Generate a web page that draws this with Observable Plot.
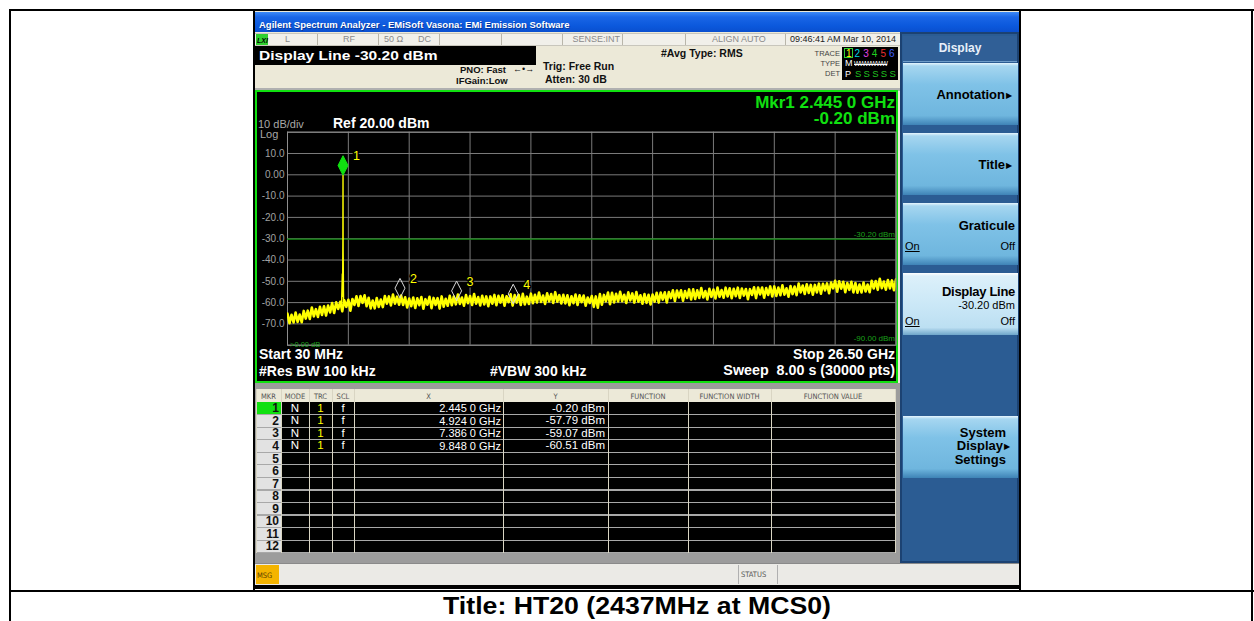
<!DOCTYPE html>
<html><head><meta charset="utf-8">
<script src="https://cdn.jsdelivr.net/npm/d3@7"></script>
<script src="https://cdn.jsdelivr.net/npm/@observablehq/plot@0.6"></script>
<style>
html,body{margin:0;padding:0;background:#fff;}
#root{position:relative;width:1254px;height:621px;overflow:hidden;font-family:"Liberation Sans",Arial,sans-serif;}
.a{position:absolute;white-space:nowrap;box-sizing:border-box;}
</style></head><body><div id="root"></div>
<script>
// ---------------- data ----------------
const sweepStartGHz = 0.03;
const sweepStopGHz = 26.5;
const refLevelDbm = 20;
const dbPerDiv = 10;
const displayLineDbm = -30.20;
const thresholdLabel = "-90.00 dBm";
const yTickValues = [10, 0, -10, -20, -30, -40, -50, -60, -70];
const yTickLabels = ["10.0", "0.00", "-10.0", "-20.0", "-30.0", "-40.0", "-50.0", "-60.0", "-70.0"];
const markerIds = [1, 2, 3, 4];
const markerFreqGHz = [2.445, 4.924, 7.386, 9.848];
const markerLevelDbm = [-0.20, -57.79, -59.07, -60.51];
const carrierFreqGHz = [2.38, 2.415, 2.425, 2.44, 2.445, 2.45, 2.47];
const carrierLevelDbm = [-61.5, -46.5, -57, -30, -0.2, -35, -61];
// noise floor of trace 1, read across the sweep (equally spaced sweep points)
const traceLevelDbm = [
-65.2,-69.7,-65.7,-69.3,-64.7,-69.1,-65.6,-69.2,-63.9,-67.5,-63.8,-67.7,-62.3,-66.5,-63.1,-66.7,-62.0,-65.8,-61.7,-66.1,
-61.4,-64.6,-60.2,-64.9,-59.9,-63.0,-59.6,-64.1,-58.9,-62.0,-58.7,-63.8,-58.3,-61.1,-57.0,-61.6,-56.9,-60.1,-56.6,-61.7,
-57.7,-62.7,-59.0,-62.7,-57.9,-62.0,-58.6,-62.1,-56.9,-60.5,-57.1,-61.3,-56.2,-60.5,-57.2,-61.0,-56.7,-61.1,-57.5,-62.3,
-58.1,-61.7,-57.6,-62.5,-58.0,-61.2,-57.4,-62.9,-58.4,-61.0,-57.3,-62.6,-57.8,-61.1,-57.9,-62.8,-57.1,-61.9,-58.2,-61.5,
-56.8,-61.2,-57.2,-60.8,-56.2,-60.6,-57.6,-61.5,-56.5,-60.3,-56.9,-61.1,-56.0,-60.5,-57.4,-61.3,-56.8,-60.9,-57.1,-61.7,
-57.1,-60.5,-56.4,-61.2,-56.8,-60.0,-56.6,-61.5,-57.0,-59.8,-56.1,-61.4,-56.5,-60.0,-56.4,-61.1,-55.9,-60.9,-57.2,-60.6,
-55.8,-60.3,-56.3,-59.9,-55.3,-59.7,-56.7,-60.6,-55.6,-59.4,-56.0,-60.2,-55.1,-59.6,-56.5,-60.4,-56.3,-60.4,-56.6,-61.2,
-57.0,-60.3,-56.2,-61.1,-56.6,-59.8,-56.7,-61.5,-57.6,-60.2,-56.9,-62.0,-57.1,-62.4,-56.0,-61.0,-56.4,-59.4,-55.3,-60.8,
-55.4,-59.9,-55.9,-59.5,-54.9,-59.3,-56.3,-60.2,-55.2,-59.0,-55.7,-60.0,-55.0,-59.6,-56.6,-60.5,-56.0,-60.1,-56.3,-60.9,
-56.2,-59.6,-55.4,-60.0,-55.3,-58.6,-55.2,-59.9,-55.0,-57.9,-54.2,-59.2,-54.3,-57.6,-54.2,-59.1,-54.6,-57.8,-53.8,-58.5,
-53.8,-58.3,-54.2,-57.8,-53.2,-57.6,-54.6,-58.5,-53.5,-57.3,-53.9,-58.1,-52.9,-57.3,-54.1,-57.7,-53.0,-57.1,-53.3,-57.9,
-53.5,-57.0,-53.0,-57.8,-53.4,-56.7,-53.6,-58.4,-53.7,-56.4,-52.8,-57.9,-52.9,-56.2,-52.9,-57.7,-53.2,-56.4,-52.4,-57.1,
-52.4,-56.9,-52.9,-56.5,-51.9,-56.3,-53.3,-57.2,-52.2,-56.0,-52.5,-56.5,-51.1,-55.2,-52.0,-55.9,-51.4,-55.5,-51.7,-56.3,
-51.7,-55.2,-51.1,-55.8,-51.2,-54.3,-51.0,-55.6,-50.6,-53.3,-49.8,-54.9,-50.0,-53.5,-50.2,-55.1,-50.8,-54.0,-50.2,-55.2,
-50.8,-55.4,-51.5,-55.2,-50.6,-54.8,-51.5,-55.1,-49.8,-53.4,-49.9,-54.0,-48.8,-53.2,-50.1,-53.9,-49.4,-53.4,-49.6,-54.2,-49.1
];

// ---------------- helpers ----------------
const root = document.getElementById("root");
function el(css, text) {
  const e = document.createElement("div");
  e.className = "a"; e.style.cssText = css;
  if (text != null) e.textContent = text;
  root.appendChild(e); return e;
}
function rect(x, y, w, h, bg, extra = "") {
  return el(`left:${x}px;top:${y}px;width:${w}px;height:${h}px;background:${bg};${extra}`);
}
function txt(x, base, s, size, o = {}) {
  const color = o.color || "#000", weight = o.weight || "normal", align = o.align || "left";
  const fam = o.family ? `font-family:${o.family};` : "";
  const top = base - 0.85 * size;
  let pos = align === "left" ? `left:${x}px;` : align === "right" ? `right:${1254 - x}px;` : `left:${x}px;transform:translateX(-50%);`;
  return el(`${pos}top:${top}px;font-size:${size}px;line-height:${size}px;color:${color};font-weight:${weight};${fam}${o.extra || ""}`, s);
}
const fmtGHz = f => { const s = f.toFixed(4); return s.slice(0, -1) + " " + s.slice(-1); };

// ---------------- screenshot chrome ----------------
rect(255, 11, 765, 578, "#ece9d8");
rect(255, 12, 764, 20, "linear-gradient(#3d8af7 0%, #1a66e6 25%, #0b58dc 70%, #0a4fcf 100%)");
txt(259, 28, "Agilent Spectrum Analyzer - EMiSoft Vasona: EMi Emission Software", 9.5, {color: "#fff", weight: "bold", extra: "text-shadow:1px 1px 0 #0a3a9a;"});
rect(255, 33, 645, 13, "#f1f0ea", "border-top:1px solid #c8c6bc;border-bottom:1px solid #c8c6bc;");
[317, 378, 439, 501, 562, 622, 685, 785].forEach(x => rect(x, 34, 1, 11, "#b9b6aa"));
rect(256, 34, 12, 11, "#2fd02f");
txt(257, 43, "LXI", 7, {weight: "bold", extra: "font-style:italic;"});
const gray = "#8a8a8a";
txt(285, 43, "L", 9, {color: gray});
txt(343, 43, "RF", 9, {color: gray});
txt(384, 43, "50 Ω", 9, {color: gray});
txt(418, 43, "DC", 9, {color: gray});
txt(620, 43, "SENSE:INT", 9, {color: gray, align: "right"});
txt(712, 43, "ALIGN AUTO", 9, {color: gray});
txt(790, 43, "09:46:41 AM Mar 10, 2014", 9, {color: "#222"});
rect(255, 46, 281, 18.5, "#000");
txt(259, 60.5, `Display Line ${displayLineDbm.toFixed(2)} dBm`, 13.5, {color: "#fff", weight: "bold", extra: "transform:scaleX(1.15);transform-origin:0 0;"});
txt(460, 73.5, "PNO: Fast", 9.5, {weight: "bold", color: "#111"});
txt(513, 73, "←•→", 9, {color: "#111"});
txt(456, 84.5, "IFGain:Low", 9.5, {weight: "bold", color: "#111"});
txt(543, 69.5, "Trig: Free Run", 10.5, {weight: "bold", color: "#111"});
txt(545, 82.5, "Atten: 30 dB", 10.5, {weight: "bold", color: "#111"});
txt(661, 57, "#Avg Type: RMS", 10.5, {weight: "bold", color: "#111"});
txt(840, 56, "TRACE", 7.5, {color: "#444", align: "right"});
txt(840, 66, "TYPE", 7.5, {color: "#444", align: "right"});
txt(840, 76, "DET", 7.5, {color: "#444", align: "right"});
rect(842, 47, 56, 33, "#000");
rect(844, 48, 9, 10, "transparent", "border:1px solid #2fd02f;");
["#ffff00", "#00d8e8", "#e040e0", "#20d020", "#e83030", "#4060ff"].forEach((c, i) => txt(846 + i * 8.6, 57, String(i + 1), 10, {color: c}));
txt(845, 67, "M", 9, {color: "#fff"});
txt(854, 66.5, "WWWWWW", 6.5, {color: "#fff", extra: "letter-spacing:-0.6px;text-decoration:line-through;"});
txt(845, 77.5, "P", 9, {color: "#fff"});
["S", "S", "S", "S", "S"].forEach((s, i) => txt(855 + i * 8.6, 77.5, s, 9.5, {color: "#20c020"}));
rect(255, 88, 645, 3, "#b0b0b0");
rect(255, 90, 642.5, 293, "#000", "border:2.5px solid #10e010;");

// ---------------- the Plot chart ----------------
const trace = traceLevelDbm.map((v, i) => ({f: sweepStartGHz + i * (sweepStopGHz - sweepStartGHz) / (traceLevelDbm.length - 1), v}));
const carrier = carrierFreqGHz.map((f, i) => ({f, v: carrierLevelDbm[i]}));
const markers = markerIds.map((id, i) => ({id, f: markerFreqGHz[i], v: markerLevelDbm[i]}));
const divX = d3.range(11).map(i => sweepStartGHz + i * (sweepStopGHz - sweepStartGHz) / 10);
const divY = d3.range(11).map(i => refLevelDbm - i * dbPerDiv);
const tallDiamond = {draw(ctx) { ctx.moveTo(0, 0); ctx.lineTo(5, -9.75); ctx.lineTo(0, -19.5); ctx.lineTo(-5, -9.75); ctx.closePath(); }};

const chart = Plot.plot({
  width: 640, height: 287,
  marginLeft: 30, marginRight: 1.5, marginTop: 38.7, marginBottom: 35.3,
  style: {background: "transparent", color: "#a2a2a2", fontFamily: "'Liberation Sans', Arial, sans-serif", fontSize: "10px", overflow: "visible"},
  x: {domain: [sweepStartGHz, sweepStopGHz], axis: null},
  y: {domain: [refLevelDbm - 10 * dbPerDiv, refLevelDbm]},
  marks: [
    Plot.gridX({ticks: divX, stroke: "#7a7a7a", strokeOpacity: 1}),
    Plot.gridY({ticks: divY, stroke: "#7a7a7a", strokeOpacity: 1}),
    Plot.frame({stroke: "#8e8e8e"}),
    Plot.axisY({ticks: yTickValues, tickSize: 0, tickPadding: 3, label: null, fontSize: 10,
      tickFormat: d => yTickLabels[yTickValues.indexOf(d)]}),
    Plot.ruleY([displayLineDbm], {stroke: "#0c8a0c", strokeWidth: 1.2}),
    Plot.text([displayLineDbm], {y: d => d, text: d => d.toFixed(2) + " dBm", frameAnchor: "right", textAnchor: "end", dx: -1, dy: -5, fill: "#1aa01a", fontSize: 8}),
    Plot.text([thresholdLabel], {text: d => d, frameAnchor: "bottom-right", textAnchor: "end", dx: -1, dy: -4, fill: "#1aa01a", fontSize: 8}),
    Plot.line(trace, {x: "f", y: "v", stroke: "#ffff00", strokeWidth: 2.6, strokeLinejoin: "round", clip: true}),
    Plot.line(carrier, {x: "f", y: "v", stroke: "#ffff00", strokeWidth: 1.4}),
    Plot.dot(markers.filter(m => m.id === 1), {x: "f", y: "v", symbol: tallDiamond, fill: "#10e010", stroke: "#10e010", strokeWidth: 1}),
    Plot.dot(markers.filter(m => m.id !== 1), {x: "f", y: "v", symbol: tallDiamond, fill: "none", stroke: "#d8d8d8", strokeWidth: 1}),
    Plot.text(markers, {x: "f", y: "v", text: "id", dx: 10, dy: -19, fill: "#ffff00", fontSize: 12.5, textAnchor: "start", stroke: "#000", strokeWidth: 3})
  ]
});
chart.style.position = "absolute";
chart.style.left = "257px";
chart.style.top = "93px";
root.appendChild(chart);

// overlay annotations in the graph area
txt(258, 128, `${dbPerDiv} dB/div`, 11, {color: "#a8a8a8"});
txt(260, 138, "Log", 11, {color: "#a8a8a8"});
txt(333, 127.5, `Ref ${refLevelDbm.toFixed(2)} dBm`, 14, {color: "#fff", weight: "bold"});
txt(895, 108, `Mkr1 ${fmtGHz(markerFreqGHz[0])} GHz`, 17, {color: "#10e010", weight: "bold", align: "right"});
txt(895, 124.5, `${markerLevelDbm[0].toFixed(2)} dBm`, 17, {color: "#10e010", weight: "bold", align: "right"});
txt(259, 359, `Start ${Math.round(sweepStartGHz * 1000)} MHz`, 14, {color: "#fff", weight: "bold"});
txt(259, 375.5, "#Res BW 100 kHz", 14, {color: "#fff", weight: "bold"});
txt(490, 375.5, "#VBW 300 kHz", 14, {color: "#fff", weight: "bold"});
txt(895, 359, `Stop ${sweepStopGHz.toFixed(2)} GHz`, 14, {color: "#fff", weight: "bold", align: "right"});
txt(895, 375.5, "Sweep  8.00 s (30000 pts)", 14.3, {color: "#fff", weight: "bold", align: "right", extra: "white-space:pre;"});
txt(290, 347, ">0.00 dB", 7.5, {color: "#1aa01a"});

// ---------------- marker table ----------------
rect(255, 383, 645, 180, "#9c9c9c");
rect(256, 389, 639, 13, "#ece9d8");
const cols = [256, 281, 309, 332, 354, 503, 608, 688, 771, 895];
const rowH = 12.55, body0 = 402;
rect(256, body0, 639, 12 * rowH, "#000");
rect(256, body0, 25, 12 * rowH, "#e2e2e2");
rect(256, body0, 25, rowH, "#10e010");
for (let k = 1; k <= 12; k++) rect(256, body0 + k * rowH - 0.5, 639, 1.2, "#a8a8a8");
cols.forEach(x => rect(x, 389, 1, 13 + 12 * rowH, "#d9d5c3"));
const hdr = ["MKR", "MODE", "TRC", "SCL", "X", "Y", "FUNCTION", "FUNCTION WIDTH", "FUNCTION VALUE"];
hdr.forEach((h, i) => txt((cols[i] + cols[i + 1]) / 2, 399, h, 7.5, {color: "#555", align: "center", family: "'DejaVu Sans Condensed','DejaVu Sans',sans-serif"}));
for (let r = 0; r < 12; r++) {
  const base = body0 + r * rowH + 10.5;
  txt(279, base, String(r + 1), 12, {weight: "bold", align: "right", color: "#111"});
}
markers.forEach((m, r) => {
  const base = body0 + r * rowH + 10.5;
  txt(295, base, "N", 11.5, {color: "#fff", align: "center"});
  txt(320.5, base, "1", 11.5, {color: "#ffff00", align: "center"});
  txt(343, base, "f", 11.5, {color: "#fff", align: "center"});
  txt(501, base, `${fmtGHz(m.f)} GHz`, 11, {color: "#fff", align: "right"});
  txt(605, base, `${m.v.toFixed(2)} dBm`, 11.5, {color: "#fff", align: "right"});
});

// ---------------- right soft-key panel ----------------
rect(900, 32, 119, 531, "#2b5c93", "border:2px solid #1c4272;");
rect(903, 36, 114, 26, "#305f96", "border-bottom:1px solid #6f9cc8;");
txt(960, 52.5, "Display", 12, {color: "#e8f0fa", weight: "bold", align: "center"});
const btn = "linear-gradient(#e6f5fd 0px, #a6d6f0 3px, #7fc2e7 35%, #6fb6de 85%, #3e83b6 100%)";
const btnHi = "linear-gradient(#ffffff 0px, #dcf0fa 3px, #cbe8f7 50%, #bcdff2 88%, #6ea6ca 100%)";
[[63, btn], [133, btn], [203, btn], [273, btnHi], [416, btn]].forEach(([y, bg]) => rect(903, y, 115, 62, bg));
txt(1005, 99.5, "Annotation", 13, {weight: "bold", align: "right"});
txt(1006, 98.5, "▶", 8, {});
txt(1005, 169.5, "Title", 13, {weight: "bold", align: "right"});
txt(1006, 168.5, "▶", 8, {});
txt(1015, 230.5, "Graticule", 13, {weight: "bold", align: "right"});
txt(905, 250, "On", 11, {extra: "text-decoration:underline;"});
txt(1015, 250, "Off", 11, {align: "right"});
txt(1015, 296.5, "Display Line", 13, {weight: "bold", align: "right", extra: "letter-spacing:-0.3px;"});
txt(1015, 309.5, `${displayLineDbm.toFixed(2)} dBm`, 11, {align: "right"});
txt(905, 325, "On", 11, {extra: "text-decoration:underline;"});
txt(1015, 325, "Off", 11, {align: "right"});
txt(1006, 437, "System", 13, {weight: "bold", align: "right"});
txt(1003, 450.5, "Display", 13, {weight: "bold", align: "right"});
txt(1004, 449.5, "▶", 8, {});
txt(1006, 464, "Settings", 13, {weight: "bold", align: "right"});

// ---------------- status bar ----------------
rect(255, 563, 764, 23, "#ebeae6", "border-top:1px solid #8a8a8a;");
rect(256, 565, 23, 19, "#f4b400");
txt(257, 578, "MSG", 7.5, {color: "#5a4000", family: "'DejaVu Sans Condensed',sans-serif"});
rect(738, 565, 1, 19, "#b0b0b0");
rect(777, 565, 1, 19, "#b0b0b0");
txt(741, 577.5, "STATUS", 7.5, {color: "#555", family: "'DejaVu Sans Condensed',sans-serif"});
rect(255, 585, 765, 4, "#000");

// ---------------- document table borders ----------------
rect(9, 9, 1245, 2, "#000");
rect(9, 9, 2, 612, "#000");
rect(1251, 9, 2, 612, "#000");
rect(253, 9, 2, 583, "#000");
rect(1019, 9, 2, 583, "#000");
rect(9, 590, 1245, 2, "#000");
el("left:637px;top:595px;font-size:23px;line-height:23px;font-weight:bold;color:#000;transform:translateX(-50%) scaleX(1.16);transform-origin:50% 0;", "Title: HT20 (2437MHz at MCS0)");
</script></body></html>
